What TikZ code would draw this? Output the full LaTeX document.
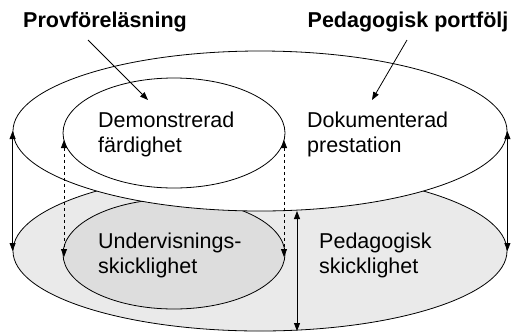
\documentclass[tikz,border=0pt]{standalone}
\usepackage{fontspec}
\setmainfont{Liberation Sans}
\usetikzlibrary{shapes.geometric,arrows.meta}
\definecolor{outergray}{HTML}{EAEAEA}
\definecolor{innergray}{HTML}{DDDDDD}
\begin{document}
\begin{tikzpicture}[x=1pt,y=-1pt,
  disc/.style={ellipse,draw=black,line width=0.8pt,inner sep=0pt},
  lbl/.style={font=\fontsize{21.5}{25}\selectfont,align=left,inner sep=0pt,anchor=west},
  head/.style={font=\bfseries\fontsize{21.5}{25}\selectfont,inner sep=0pt},
  arr/.style={line width=0.8pt,-{Triangle[length=8pt,width=6pt]}},
  darr/.style={line width=0.8pt,{Triangle[length=8pt,width=6pt]}-{Triangle[length=8pt,width=6pt]}}]
\useasboundingbox (0,0) rectangle (513,333);
% bottom layer
\node[disc,fill=outergray,minimum width=494pt,minimum height=160pt] (botbig) at (260,251) {};
\node[disc,fill=innergray,minimum width=222pt,minimum height=110pt] (botin) at (174,254) {};
% top layer
\node[disc,fill=white,minimum width=494pt,minimum height=160pt] (topbig) at (260,131) {};
\node[disc,fill=white,minimum width=222pt,minimum height=110pt] (topin) at (174,133) {};
% texts
\node[lbl] (demo) at (98,134) {Demonstrerad\\färdighet};
\node[lbl] (doku) at (307,134) {Dokumenterad\\prestation};
\node[lbl] (under) at (98,255) {Undervisnings-\\skicklighet};
\node[lbl] (peda) at (319,255) {Pedagogisk\\skicklighet};
\node[head] (prov) at (105,22) {Provföreläsning};
\node[head] (port) at (408,22) {Pedagogisk portfölj};
% pointer arrows
\coordinate (p1) at (88,40);
\coordinate (p1e) at (148,100);
\coordinate (p2) at (407,40);
\coordinate (p2e) at (372,100);
\draw[arr] (p1) -- (p1e);
\draw[arr] (p2) -- (p2e);
% vertical arrows
\draw[darr] (topbig.west) -- (botbig.west);
\draw[darr] (topbig.east) -- (botbig.east);
\coordinate (dl1) at (64,140);
\coordinate (dl2) at (64,257);
\coordinate (dr1) at (284,140);
\coordinate (dr2) at (284,257);
\draw[darr,dashed] (dl1) -- (dl2);
\draw[darr,dashed] (dr1) -- (dr2);
\coordinate (m1) at (297,211);
\coordinate (m2) at (297,331);
\draw[darr] (m1) -- (m2);
\end{tikzpicture}
\end{document}
